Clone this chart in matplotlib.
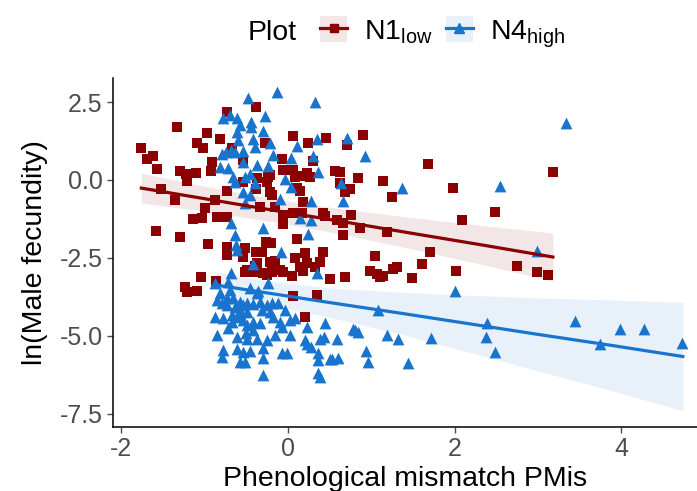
"""Male fecundity vs phenological mismatch, N1low vs N4high plots."""
import matplotlib
matplotlib.use("Agg")
import matplotlib.pyplot as plt
from matplotlib.lines import Line2D
from matplotlib.patches import Patch
from matplotlib.legend_handler import HandlerTuple

plt.rcParams["font.family"] = ["Liberation Sans", "DejaVu Sans"]
plt.rcParams["mathtext.fontset"] = "custom"
plt.rcParams["mathtext.rm"] = "Liberation Sans"
plt.rcParams["axes.unicode_minus"] = False

# --- data ---
# N1low (dark red squares)
n1_x = [-1.76, -1.69, -1.62, -1.57, -1.33, -1.09, -1.02, -0.97, -0.81, -0.73,
        -0.38, -1.29, -1.22, -1.10, -0.91, -0.92, -0.67, -0.54, -0.27, -0.37,
        0.06, 0.24, 0.46, 0.71, 0.90, 0.84, 0.57, 0.63, 0.30, -0.07,
        -0.06, 0.06, 0.09, 0.16, 0.23, 0.26, -0.24, 1.68, 3.18, 1.14,
        -0.54, -0.25, 0.11, 0.15, -0.21, -1.21, -1.52, -0.38, -0.73, 0.63,
        0.69, 0.75, 1.25, 1.98, -1.35, -0.87, -0.21, -0.19, 0.18, -1.00,
        -0.34, -0.16, -1.14, -1.03, -0.85, -0.73, -0.06, -0.06, 0.06, 0.17,
        0.42, 0.45, 0.59, 0.66, 0.76, 0.86, 0.66, 1.19, 2.09, 2.49,
        -1.58, -1.29, 0.11, -0.96, -0.73, -0.73, -0.51, -0.54, -0.38, -0.31,
        -0.26, -0.20, -0.37, -0.22, -0.15, -0.49, -0.52, -0.42, -1.04, -0.86,
        0.20, 0.42, 0.08, 0.39, 0.33, 0.23, 0.15, 0.18, -0.16, -0.09,
        -0.06, 0.05, -0.30, -0.25, -0.19, 1.04, 0.99, 1.07, 1.14, 1.26,
        1.31, 0.69, 0.50, 1.71, 1.61, 1.11, 1.49, 2.02, 2.75, 2.99,
        3.12, -1.24, -1.21, -1.09, 0.06, 0.35, 0.20, -0.39]
n1_y = [1.03, 0.67, 0.77, 0.35, 1.70, 1.19, 1.03, 1.51, 1.31, 2.18,
        2.34, 0.29, 0.19, 0.22, 0.58, 0.29, 1.03, 0.64, 1.19, 0.06,
        1.41, 1.19, 1.35, 1.12, 1.44, 0.06, 0.29, 0.26, 0.61, 0.67,
        0.32, 0.32, 0.10, 0.13, 0.22, 0.10, 0.10, 0.51, 0.26, -0.03,
        -0.06, -0.06, -0.26, -0.35, 0.16, -0.03, -0.29, -0.29, -0.35, -0.10,
        -0.38, -0.29, -0.54, -0.26, -0.64, -0.64, -0.38, -0.48, -0.71, -0.90,
        -0.87, -0.87, -1.25, -1.22, -1.19, -1.19, -1.12, -1.41, -1.06, -1.06,
        -1.06, -1.15, -1.28, -1.38, -1.12, -1.54, -1.76, -1.67, -1.28, -1.03,
        -1.63, -1.83, -1.89, -2.05, -2.15, -2.40, -2.18, -2.47, -2.31, -2.31,
        -1.99, -2.02, -2.66, -2.63, -2.60, -2.88, -2.95, -2.95, -3.11, -3.24,
        -2.34, -2.31, -2.50, -2.63, -2.79, -2.66, -2.79, -2.92, -2.72, -2.88,
        -2.95, -3.08, -2.98, -3.04, -2.95, -2.44, -2.92, -3.01, -3.08, -2.85,
        -2.79, -3.11, -3.17, -2.31, -2.69, -3.11, -3.14, -2.92, -2.76, -2.95,
        -3.04, -3.43, -3.59, -3.56, -3.72, -3.69, -4.39, -2.76]

# N4high (blue triangles)
n4_x = [-0.48, -0.13, 0.33, -0.78, -0.69, -0.61, -0.27, -0.44, -0.44, -0.57,
        -0.61, -0.30, -0.60, -0.42, -0.21, -0.39, 0.11, 0.35, 0.71, -0.79,
        -0.74, -0.68, -0.63, -0.54, -0.18, 0.04, 0.30, 0.93, -0.82, -0.72,
        -0.54, -0.37, -0.24, -0.66, -0.52, -0.46, -0.03, 0.04, 0.36, -0.40,
        -0.63, -0.54, -0.45, -0.51, -0.09, 0.28, 0.64, 0.66, 1.37, -0.68,
        -0.30, 0.15, 0.28, -0.64, -0.62, -0.61, 0.24, -0.08, -0.42, 0.35,
        -0.68, 2.54, 3.34, 2.99, 2.01, 2.39, 2.38, 2.48, 3.44, 3.99,
        4.27, 3.74, 4.73, 1.19, 1.32, 1.72, 1.44, 1.08, 0.81, 0.84,
        0.59, 0.94, 0.53, 0.60, 0.96, -0.87, -0.72, -0.24, -0.36, -0.81,
        -0.73, -0.85, -0.79, -0.73, -0.66, -0.57, -0.49, -0.63, -0.57, -0.54,
        -0.37, -0.33, -0.42, -0.25, -0.19, -0.12, -0.21, -0.18, -0.87, -0.78,
        -0.67, -0.61, -0.54, -0.49, -0.42, -0.33, -0.09, 0.03, -0.07, 0.23,
        0.45, 0.78, -0.85, -0.61, -0.49, -0.37, -0.50, -0.25, -0.30, 0.20,
        0.23, 0.28, 0.39, 0.43, -0.78, -0.79, -0.61, -0.54, -0.45, -0.30,
        -0.07, -0.01, 0.36, 0.36, 0.50, -0.57, -0.51, -0.30, 0.36, 0.38,
        -0.67, -0.58, -0.49, -0.69, -0.45, -0.31, -0.03, 0.09, -0.72, -0.42,
        -0.15, 0.03]
n4_y = [2.63, 2.82, 2.50, 1.99, 2.08, 1.99, 2.05, 1.86, 1.70, 1.76,
        1.54, 1.57, 1.28, 1.31, 1.19, 1.06, 1.09, 1.31, 1.35, 0.83,
        0.90, 0.96, 0.90, 0.93, 0.80, 0.71, 0.77, 0.77, 0.42, 0.38,
        0.58, 0.48, 0.45, 0.10, 0.10, 0.19, 0.03, -0.22, 0.26, -0.10,
        -0.06, -0.38, -0.48, -0.74, -0.61, -0.67, -0.10, -0.67, -0.26, -1.38,
        -1.54, -1.22, -1.28, -1.76, -2.08, -2.24, -1.73, -2.31, -2.69, -2.98,
        -2.98, -0.19, 1.83, -2.28, -3.56, -4.58, -5.03, -5.51, -4.52, -4.78,
        -4.78, -5.26, -5.22, -4.97, -5.10, -5.06, -5.87, -4.17, -4.81, -4.87,
        -5.10, -5.48, -5.74, -5.71, -5.83, -3.30, -3.27, -3.30, -3.56, -3.62,
        -3.78, -3.85, -3.94, -4.01, -3.78, -3.91, -3.94, -4.07, -4.17, -4.01,
        -3.62, -3.91, -3.97, -4.01, -3.94, -3.94, -4.23, -4.39, -4.39, -4.42,
        -4.55, -4.39, -4.49, -4.65, -4.55, -4.58, -4.55, -4.49, -4.71, -4.71,
        -4.58, -4.78, -4.97, -5.03, -5.10, -5.10, -4.90, -5.13, -5.38, -5.13,
        -5.26, -5.35, -5.10, -5.03, -5.45, -5.67, -5.42, -5.51, -5.48, -5.71,
        -5.54, -5.54, -5.54, -5.77, -5.74, -5.83, -5.83, -6.25, -6.19, -6.31,
        -4.33, -4.29, -4.23, -3.53, -3.46, -4.17, -4.17, -4.42, -4.74, -4.81,
        -4.97, -4.97]

# fitted lines with 95% CI ribbons
n1_fit_x = [-1.76, -1.0, -0.2, 0.6, 1.4, 2.3, 3.18]
n1_fit_y = [-0.26, -0.60, -0.96, -1.31, -1.67, -2.07, -2.47]
n1_fit_hi = [0.22, -0.20, -0.59, -0.91, -1.18, -1.45, -1.70]
n1_fit_lo = [-0.74, -1.00, -1.33, -1.71, -2.16, -2.69, -3.24]

n4_fit_x = [-0.86, -0.3, 0.5, 1.35, 2.2, 3.0, 3.9, 4.74]
n4_fit_y = [-3.37, -3.60, -3.93, -4.27, -4.62, -4.95, -5.31, -5.66]
n4_fit_hi = [-2.94, -3.22, -3.46, -3.60, -3.70, -3.78, -3.85, -3.92]
n4_fit_lo = [-3.80, -3.98, -4.40, -4.94, -5.54, -6.12, -6.77, -7.40]

labels = [r"N1$_\mathregular{low}$", r"N4$_\mathregular{high}$"]
RED, BLUE = "#8B0000", "#1874CD"
RED_FILL, BLUE_FILL = "#F3E6E6", "#E8F1FA"
GREY = "#4D4D4D"

fig = plt.figure(figsize=(6.97, 4.91), dpi=100)
ax = fig.add_axes([113 / 697, 64 / 491, 584 / 697, 349 / 491])

ax.fill_between(n1_fit_x, n1_fit_lo, n1_fit_hi, color=RED_FILL, lw=0, zorder=1)
ax.fill_between(n4_fit_x, n4_fit_lo, n4_fit_hi, color=BLUE_FILL, lw=0, zorder=1)
ax.scatter(n1_x, n1_y, marker="s", s=50, color=RED, lw=0, zorder=2)
ax.scatter(n4_x, n4_y, marker="^", s=72, color=BLUE, lw=0, zorder=3)
ax.plot(n1_fit_x, n1_fit_y, color=RED, lw=2.3, zorder=4)
ax.plot(n4_fit_x, n4_fit_y, color=BLUE, lw=2.3, zorder=4)

ax.set_xlim(-2.10, 4.91)
ax.set_ylim(-7.92, 3.27)
ax.set_xticks([-2, 0, 2, 4])
ax.set_yticks([-7.5, -5.0, -2.5, 0.0, 2.5])
ax.set_yticklabels(["-7.5", "-5.0", "-2.5", "0.0", "2.5"])
ax.tick_params(labelsize=18, labelcolor=GREY, color=GREY, length=4, width=1)
for side in ("top", "right"):
    ax.spines[side].set_visible(False)
for side in ("left", "bottom"):
    ax.spines[side].set_linewidth(1.1)
ax.set_xlabel("Phenological mismatch PMis", fontsize=20.5, labelpad=3)
ax.set_ylabel("ln(Male fecundity)", fontsize=20.5, labelpad=8)

handles = [
    (Patch(fc=RED_FILL, ec="none"), Line2D([], [], color=RED, lw=2.3, marker="s", ms=6)),
    (Patch(fc=BLUE_FILL, ec="none"), Line2D([], [], color=BLUE, lw=2.3, marker="^", ms=7)),
]
fig.text(248 / 697, 1 - 33 / 491, "Plot", fontsize=20.5, va="center", ha="left")
fig.legend(handles, labels, loc="center left", bbox_to_anchor=(306 / 697, 1 - 33 / 491),
           ncol=2, frameon=False, fontsize=20.5, handlelength=0.95, handleheight=1.0,
           handletextpad=0.6, columnspacing=0.45, borderpad=0,
           handler_map={tuple: HandlerTuple(ndivide=1)})

fig.savefig("out.png", dpi=100)
